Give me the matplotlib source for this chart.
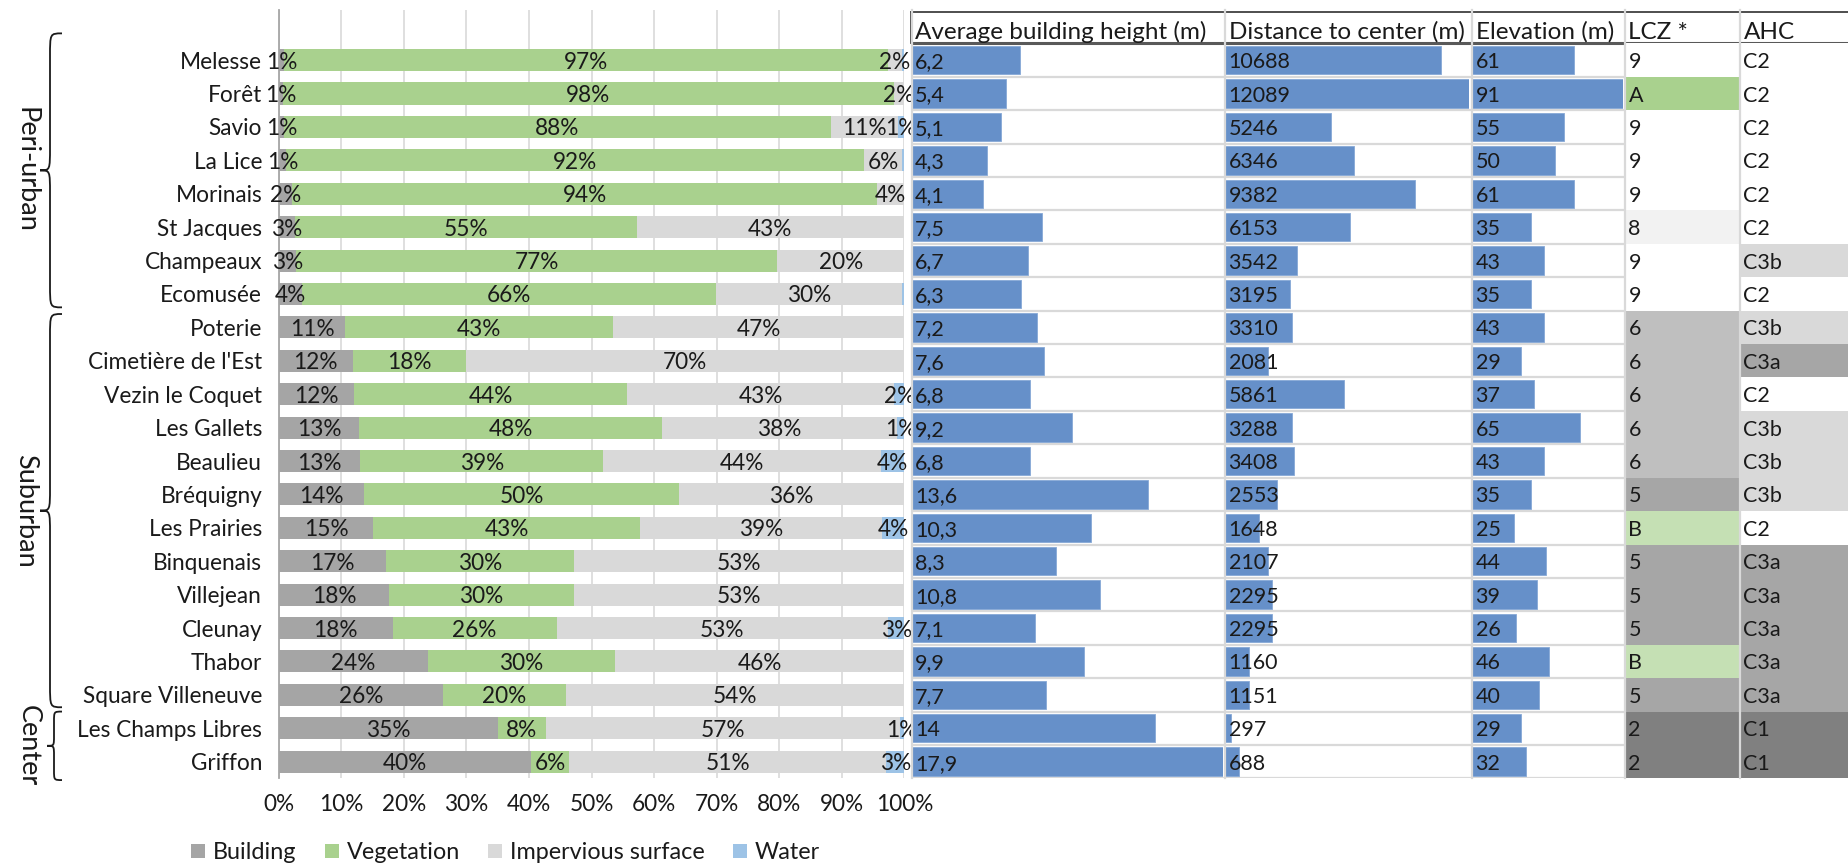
import matplotlib
matplotlib.use('Agg')
import matplotlib.pyplot as plt
from matplotlib.path import Path
from matplotlib.patches import PathPatch, Patch
import matplotlib.transforms as mtransforms

plt.rcParams['font.family'] = ['Lato', 'DejaVu Sans']

# ---------------- data ----------------
sites = ['Melesse', 'Forêt', 'Savio', 'La Lice', 'Morinais', 'St Jacques', 'Champeaux',
         'Ecomusée', 'Poterie', "Cimetière de l'Est", 'Vezin le Coquet', 'Les Gallets',
         'Beaulieu', 'Bréquigny', 'Les Prairies', 'Binquenais', 'Villejean', 'Cleunay',
         'Thabor', 'Square Villeneuve', 'Les Champs Libres', 'Griffon']
building = [0.8, 0.7, 0.8, 1.2, 2.1, 2.6, 2.8, 3.7, 10.6, 11.8, 12.0, 12.9,
            13.0, 13.6, 15.1, 17.2, 17.6, 18.2, 23.9, 26.3, 35.0, 40.3]
vegetation = [96.6, 97.6, 87.5, 92.4, 93.6, 54.6, 76.9, 66.2, 42.8, 18.1, 43.7, 48.3,
              38.9, 50.4, 42.6, 30.0, 29.6, 26.2, 29.8, 19.6, 7.7, 6.1]
impervious = [2.2, 1.7, 10.7, 6.1, 4.3, 42.8, 20.3, 29.7, 46.6, 70.1, 42.7, 37.6,
              44.4, 36.0, 38.7, 52.8, 52.8, 53.0, 46.3, 54.1, 56.6, 50.7]
water = [0.4, 0.0, 1.0, 0.3, 0.0, 0.0, 0.0, 0.4, 0.0, 0.0, 1.6, 1.2,
         3.7, 0.0, 3.6, 0.0, 0.0, 2.6, 0.0, 0.0, 0.7, 2.9]
cover_names = ['Building', 'Vegetation', 'Impervious surface', 'Water']

avg_height = [6.2, 5.4, 5.1, 4.3, 4.1, 7.5, 6.7, 6.3, 7.2, 7.6, 6.8, 9.2, 6.8, 13.6,
              10.3, 8.3, 10.8, 7.1, 9.9, 7.7, 14, 17.9]
distance = [10688, 12089, 5246, 6346, 9382, 6153, 3542, 3195, 3310, 2081, 5861, 3288,
            3408, 2553, 1648, 2107, 2295, 2295, 1160, 1151, 297, 688]
elevation = [61, 91, 55, 50, 61, 35, 43, 35, 43, 29, 37, 65, 43, 35, 25, 44, 39, 26,
             46, 40, 29, 32]
lcz = ['9', 'A', '9', '9', '9', '8', '9', '9', '6', '6', '6', '6', '6', '5', 'B', '5',
       '5', '5', 'B', '5', '2', '2']
ahc = ['C2', 'C2', 'C2', 'C2', 'C2', 'C2', 'C3b', 'C2', 'C3b', 'C3a', 'C2', 'C3b', 'C3b',
       'C3b', 'C2', 'C3a', 'C3a', 'C3a', 'C3a', 'C3a', 'C1', 'C1']
headers = ['Average building height (m)', 'Distance to center (m)', 'Elevation (m)',
           'LCZ *', 'AHC']
groups = ['Peri-urban', 'Suburban', 'Center']
group_rows = [(0, 7), (8, 19), (20, 21)]
xticks = list(range(0, 101, 10))

# ---------------- style ----------------
cover_colors = ['#a5a5a5', '#a9d18e', '#d9d9d9', '#9dc3e6']
bar_blue = '#6690c9'
lcz_colors = {'9': '#ffffff', 'A': '#a9d18e', '8': '#f2f2f2', '6': '#bfbfbf',
              '5': '#a6a6a6', 'B': '#c5e0b4', '2': '#808080'}
ahc_colors = {'C2': '#ffffff', 'C3b': '#d9d9d9', 'C3a': '#a6a6a6', 'C1': '#808080'}
FS = 16.3        # row labels, percent labels, ticks
FS_VAL = 15.5    # table values
FS_HEAD = 17.5   # table headers
FS_LEG = 16.8
FS_GRP = 19.5
TXT = '#1a1a1a'

W, H = 1849, 867
fig = plt.figure(figsize=(W / 100, H / 100), dpi=100)
Y_TOP, Y_BOT = 10.0, 778.4
n = len(sites)


def add_ax(x0, x1):
    a = fig.add_axes([x0 / W, 1 - Y_BOT / H, (x1 - x0) / W, (Y_BOT - Y_TOP) / H])
    a.set_ylim(n - 0.5, -1.5)
    a.set_facecolor('none')
    return a


# ---------------- left stacked chart ----------------
ax = add_ax(278.8, 904.3)
ax.set_xlim(0, 100)
rows = list(range(n))
left = [0.0] * n
for vals, col in zip([building, vegetation, impervious, water], cover_colors):
    ax.barh(rows, vals, left=left, height=0.66, color=col, zorder=2)
    for i, v in enumerate(vals):
        if round(v) >= 1:
            ax.text(left[i] + v / 2, i, f'{round(v)}%', ha='center', va='center_baseline',
                    fontsize=FS, color=TXT, zorder=3, clip_on=False)
    left = [l + v for l, v in zip(left, vals)]

ax.set_yticks(rows)
ax.set_yticklabels(sites, fontsize=FS, color=TXT)
ax.tick_params(axis='y', length=0, pad=12)
ax.set_xticks(xticks)
ax.set_xticklabels([f'{t}%' for t in xticks], fontsize=FS, color=TXT)
ax.tick_params(axis='x', length=0, pad=11)
ax.xaxis.grid(True, color='#d9d9d9', lw=1.2)
ax.set_axisbelow(True)
for s in ['top', 'right', 'bottom']:
    ax.spines[s].set_visible(False)
ax.spines['left'].set_color('#a6a6a6')
ax.spines['left'].set_linewidth(1.3)

# ---------------- table frame ----------------
tab = add_ax(911, 1849)
tab.set_xlim(0, 1)
tab.axis('off')
for k in range(n):
    tab.axhline(k + 0.5, color='#d9d9d9', lw=1.6, zorder=0)
tab.axhline(-1.45, color='#404040', lw=1.3, clip_on=False)
tab.axhline(-0.5, color='#595959', lw=2.2, zorder=5)
tab.plot([0, 0], [-1.45, -0.5], color='#404040', lw=1.3, clip_on=False)


def style_col(a):
    a.set_xticks([])
    a.set_yticks([])
    for s in ['top', 'right', 'bottom']:
        a.spines[s].set_visible(False)
    a.spines['left'].set_color('#d9d9d9')
    a.spines['left'].set_linewidth(1.6)


def fmt(v):
    return f'{v:g}'.replace('.', ',')


bar_cols = [(912, 1223, avg_height), (1225.5, 1469.5, distance), (1472.5, 1623.5, elevation)]
for (x0, x1, vals), head in zip(bar_cols, headers[:3]):
    a = add_ax(x0, x1)
    a.set_xlim(0, max(vals))
    a.barh(rows, vals, height=0.85, color=bar_blue, edgecolor='#86a8d6', lw=0.6)
    for i, v in enumerate(vals):
        a.annotate(fmt(v), xy=(0, i), xytext=(2.2, 0), textcoords='offset points',
                   ha='left', va='center_baseline', fontsize=FS_VAL, color=TXT)
    a.annotate(head, xy=(0, -0.9), xytext=(2.2, 0), textcoords='offset points',
               ha='left', va='center_baseline', fontsize=FS_HEAD, color=TXT,
               annotation_clip=False)
    style_col(a)

cat_cols = [(1625, 1740, lcz, lcz_colors), (1740, 1849, ahc, ahc_colors)]
for (x0, x1, vals, cmap), head in zip(cat_cols, headers[3:]):
    a = add_ax(x0, x1)
    a.set_xlim(0, 1)
    a.barh(rows, [1] * n, height=1.0, color=[cmap[v] for v in vals])
    for i, v in enumerate(vals):
        a.annotate(v, xy=(0, i), xytext=(2.5, 0), textcoords='offset points',
                   ha='left', va='center_baseline', fontsize=FS_VAL, color=TXT)
    a.annotate(head, xy=(0, -0.9), xytext=(2.5, 0), textcoords='offset points',
               ha='left', va='center_baseline', fontsize=FS_HEAD, color=TXT,
               annotation_clip=False)
    style_col(a)

# ---------------- group braces ----------------
trans = mtransforms.blended_transform_factory(fig.transFigure, ax.transData)
# (top row, bottom row, tip x px, body x px, cusp x px, curl radius in rows, label x px)
brace_geo = [(-0.8, 7.4, 62, 50, 40, 0.7, 26),
             (7.6, 19.37, 62, 50, 40, 0.7, 26),
             (19.5, 21.55, 62, 54, 47, 0.3, 28)]
for name, (y0, y1, pt, pb, pc, r, lx) in zip(groups, brace_geo):
    xt, xb, xc = pt / W, pb / W, pc / W
    ym = (y0 + y1) / 2
    verts = [(xt, y0), (xb, y0), (xb, y0), (xb, y0 + r),
             (xb, ym - r),
             (xb, ym), (xb, ym), (xc, ym),
             (xb, ym), (xb, ym), (xb, ym + r),
             (xb, y1 - r),
             (xb, y1), (xb, y1), (xt, y1)]
    codes = [Path.MOVETO, Path.CURVE4, Path.CURVE4, Path.CURVE4,
             Path.LINETO,
             Path.CURVE4, Path.CURVE4, Path.CURVE4,
             Path.CURVE4, Path.CURVE4, Path.CURVE4,
             Path.LINETO,
             Path.CURVE4, Path.CURVE4, Path.CURVE4]
    patch = PathPatch(Path(verts, codes), transform=trans, fill=False, lw=1.3,
                      edgecolor='#1a1a1a')
    fig.add_artist(patch)
    ax.text(lx / W, ym, name, transform=trans, rotation=270, ha='center', va='center',
            fontsize=FS_GRP, color=TXT, clip_on=False)

# ---------------- legend ----------------
handles = [Patch(facecolor=c, edgecolor='none', label=l) for c, l in zip(cover_colors, cover_names)]
fig.legend(handles=handles, loc='center', bbox_to_anchor=(505.5 / W, 1 - 852.7 / H), ncol=4,
           frameon=False, fontsize=FS_LEG, handlelength=0.6, handleheight=0.6,
           handletextpad=0.35, columnspacing=1.2, labelcolor=TXT)

fig.savefig('out.png', dpi=100)
